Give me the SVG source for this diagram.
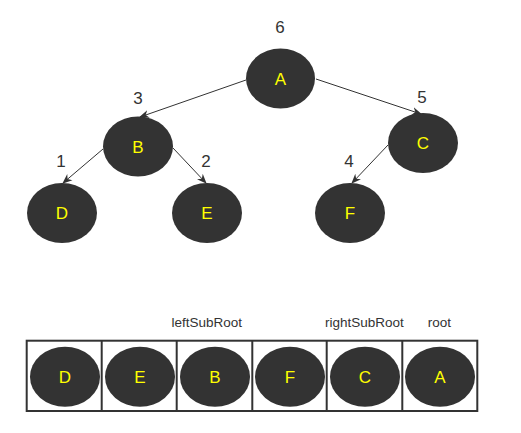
<svg xmlns="http://www.w3.org/2000/svg" width="521" height="433" viewBox="0 0 521 433">
<defs>
<style>
.node{fill:#333333}
.lbl{fill:#ffff00;font-family:"Liberation Sans",Arial,sans-serif;font-size:17px;text-anchor:middle;dominant-baseline:central}
.num{fill:#333333;font-family:"Liberation Sans",Arial,sans-serif;font-size:17px;text-anchor:middle;dominant-baseline:central}
.cap{fill:#333333;font-family:"Liberation Sans",Arial,sans-serif;font-size:13.5px;text-anchor:middle;dominant-baseline:central}
.edge{stroke:#333333;stroke-width:1;fill:none;marker-end:url(#arr)}
.cell{fill:none;stroke:#333333;stroke-width:2}
</style>
<marker id="arr" viewBox="0 0 10 10" refX="9" refY="5" markerWidth="10" markerHeight="10" markerUnits="userSpaceOnUse" orient="auto">
<path d="M0,1 L10,5 L0,9 L3,5 Z" fill="#333333"/>
</marker>
</defs>
<rect width="521" height="433" fill="#ffffff"/>
<g id="connectors">
<line class="edge" x1="246" y1="80" x2="140" y2="117"/>
<line class="edge" x1="316" y1="79" x2="421" y2="114"/>
<line class="edge" x1="103" y1="149" x2="63" y2="183"/>
<line class="edge" x1="173" y1="148" x2="206" y2="183"/>
<line class="edge" x1="388" y1="145" x2="352" y2="183"/>
</g>
<g id="node-A"><ellipse class="node" cx="280.5" cy="78.5" rx="34.5" ry="30"/><text class="lbl" x="280.5" y="79">A</text><text class="num" x="280" y="27">6</text></g>
<g id="node-B"><ellipse class="node" cx="138" cy="146.5" rx="35" ry="30"/><text class="lbl" x="138" y="147">B</text><text class="num" x="138" y="98">3</text></g>
<g id="node-C"><ellipse class="node" cx="423" cy="143" rx="35" ry="30"/><text class="lbl" x="423" y="143.5">C</text><text class="num" x="422" y="97">5</text></g>
<g id="node-D"><ellipse class="node" cx="62" cy="213" rx="35" ry="30"/><text class="lbl" x="62" y="213.5">D</text><text class="num" x="61" y="161">1</text></g>
<g id="node-E"><ellipse class="node" cx="207" cy="213" rx="35" ry="30"/><text class="lbl" x="207" y="213.5">E</text><text class="num" x="206" y="161">2</text></g>
<g id="node-F"><ellipse class="node" cx="350" cy="213" rx="35" ry="30"/><text class="lbl" x="350" y="213.5">F</text><text class="num" x="349" y="161">4</text></g>
<g id="array">
<rect class="cell" x="26.7" y="340.7" width="450.6" height="70.3"/>
<line class="cell" x1="101.7" y1="340.7" x2="101.7" y2="411"/>
<line class="cell" x1="176.7" y1="340.7" x2="176.7" y2="411"/>
<line class="cell" x1="252.3" y1="340.7" x2="252.3" y2="411"/>
<line class="cell" x1="326.7" y1="340.7" x2="326.7" y2="411"/>
<line class="cell" x1="402.3" y1="340.7" x2="402.3" y2="411"/>
<text class="cap" x="206.7" y="322">leftSubRoot</text>
<text class="cap" x="364.3" y="322">rightSubRoot</text>
<text class="cap" x="439.3" y="322">root</text>
</g>
<g id="cell-D"><ellipse class="node" cx="65" cy="376.7" rx="35" ry="30"/><text class="lbl" x="65" y="377">D</text></g>
<g id="cell-E"><ellipse class="node" cx="140" cy="376.7" rx="35" ry="30"/><text class="lbl" x="140" y="377">E</text></g>
<g id="cell-B"><ellipse class="node" cx="215" cy="376.7" rx="35" ry="30"/><text class="lbl" x="215" y="377">B</text></g>
<g id="cell-F"><ellipse class="node" cx="290" cy="376.7" rx="35" ry="30"/><text class="lbl" x="290" y="377">F</text></g>
<g id="cell-C"><ellipse class="node" cx="365" cy="376.7" rx="35" ry="30"/><text class="lbl" x="365" y="377">C</text></g>
<g id="cell-A"><ellipse class="node" cx="440" cy="376.7" rx="35" ry="30"/><text class="lbl" x="440" y="377">A</text></g>
</svg>
